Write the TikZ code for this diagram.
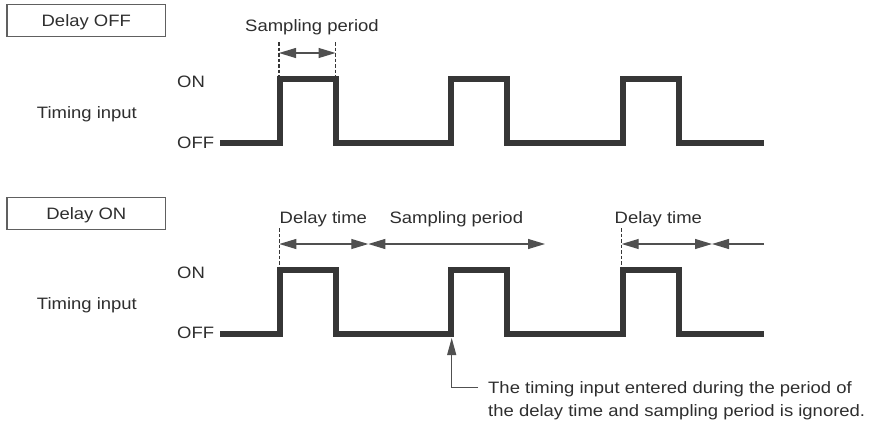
\documentclass[tikz,border=0pt]{standalone}
\usepackage{fontspec}
\setmainfont[FakeStretch=1.12]{Liberation Sans}
\usetikzlibrary{arrows.meta}
\definecolor{ink}{HTML}{2E2E2E}
\definecolor{wave}{HTML}{363636}
\definecolor{dim}{HTML}{505050}
\definecolor{boxgray}{HTML}{606060}
\begin{document}
\begin{tikzpicture}[x=1pt,y=-1pt,
  font=\fontsize{16.5}{19}\selectfont, text=ink,
  captext/.style={text height=11.8pt, text depth=0pt, inner sep=0pt},
  modebox/.style={captext, draw=boxgray, line width=1.1pt, minimum width=158.7pt, minimum height=32pt},
  wavepath/.style={draw=wave, line width=5.8pt, line join=miter},
  guide/.style={draw=wave, line width=1.4pt, dash pattern=on 3.5pt off 2pt},
  dimboth/.style={draw=dim, line width=1.1pt, arrows={Triangle[length=17pt,width=10pt]-Triangle[length=17pt,width=10pt]}},
  dimend/.style={draw=dim, line width=1.1pt, arrows={-Triangle[length=17pt,width=10pt]}},
  annot/.style={draw=dim, line width=1.1pt, arrows={-Triangle[length=17pt,width=9pt]}}
]
\useasboundingbox (0,0) rectangle (874,423);

% ---------- Delay OFF ----------
\node[modebox] (boxoff) at (86.3,20.8) {Delay OFF};
\node[captext] (spoff) at (312,26) {Sampling period};
\node[captext,anchor=west] (onA) at (177,82) {ON};
\node[captext,anchor=west] (offA) at (177,143) {OFF};
\node[captext,anchor=west] (tiA) at (36.7,112.7) {Timing input};

\draw[wavepath] (220,143) -- (280,143) -- (280,79) -- (336,79) -- (336,143)
  -- (451,143) -- (451,79) -- (507,79) -- (507,143)
  -- (623,143) -- (623,79) -- (679,79) -- (679,143) -- (764,143);

\coordinate (ga1) at (279,42);  \coordinate (ga1b) at (279,76);
\coordinate (ga2) at (335.5,42); \coordinate (ga2b) at (335.5,76);
\draw[guide] (ga1) -- (ga1b);
\draw[guide] (ga2) -- (ga2b);
\coordinate (sa0) at (279,53); \coordinate (sa1) at (335.5,53);
\draw[dimboth] (sa0) -- (sa1);

% ---------- Delay ON ----------
\node[modebox] (boxon) at (86.3,213.5) {Delay ON};
\node[captext] (dt1) at (323.3,217.5) {Delay time};
\node[captext] (sp2) at (456.3,217.5) {Sampling period};
\node[captext] (dt2) at (658.3,217.5) {Delay time};
\node[captext,anchor=west] (onB) at (177,273) {ON};
\node[captext,anchor=west] (offB) at (177,333) {OFF};
\node[captext,anchor=west] (tiB) at (36.7,303.5) {Timing input};

\draw[wavepath] (220,334) -- (280,334) -- (280,270) -- (336,270) -- (336,334)
  -- (451,334) -- (451,270) -- (507,270) -- (507,334)
  -- (623,334) -- (623,270) -- (679,270) -- (679,334) -- (764,334);

\coordinate (gb1) at (279.3,228); \coordinate (gb1b) at (279.3,267);
\coordinate (gb2) at (621.7,228); \coordinate (gb2b) at (621.7,267);
\draw[guide] (gb1) -- (gb1b);
\draw[guide] (gb2) -- (gb2b);

\coordinate (b0) at (279.3,244);
\coordinate (b1) at (368.3,244);
\coordinate (b2) at (545,244);
\coordinate (b3) at (621.7,244);
\coordinate (b4) at (712,244);
\coordinate (b5) at (764,244);
\draw[dimboth] (b0) -- (b1);
\draw[dimboth] (b1) -- (b2);
\draw[dimboth] (b3) -- (b4);
\draw[dimend] (b5) -- (b4);

% ---------- annotation ----------
\node[captext,anchor=west] (note1) at (488,387.5) {The timing input entered during the period of};
\node[captext,anchor=west] (note2) at (488,411) {the delay time and sampling period is ignored.};
\coordinate (tip) at (451.7,338);
\draw[annot] ([xshift=-10pt]note1.west) -| (tip);
\end{tikzpicture}
\end{document}
